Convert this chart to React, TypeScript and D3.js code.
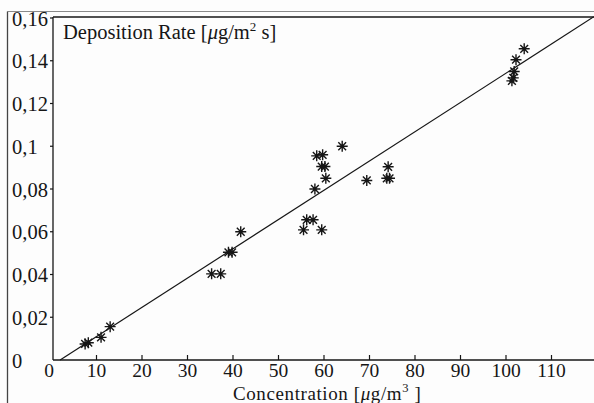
import React from "react";
import * as d3 from "d3";

const W = 594;
const H = 403;

// Data: concentration [µg/m³] vs deposition rate [µg/m² s]
const concentration = [
  7.5, 8.2, 11.0, 13.0, 35.3, 37.3, 39.0, 39.8, 41.7,
  58.0, 58.4, 59.7, 59.5, 60.2, 60.4, 64.0, 69.4, 74.1, 73.8, 74.4,
  56.2, 57.6, 55.5, 59.5,
  104.0, 102.2, 101.8, 101.3, 101.6,
];
const depositionRate = [
  0.0075, 0.0081, 0.0106, 0.0156, 0.0403, 0.0403, 0.0504, 0.0504, 0.060,
  0.080, 0.0955, 0.096, 0.0905, 0.0905, 0.085, 0.100, 0.084, 0.0904, 0.085, 0.085,
  0.0656, 0.0656, 0.0609, 0.0609,
  0.1456, 0.1405, 0.135, 0.1306, 0.132,
];

// Regression line endpoints (x values) and coefficients
const fitX = [2.0, 119.3];
const fitSlope = 0.001369;
const fitIntercept = -0.00274;

const xTicks = [10, 20, 30, 40, 50, 60, 70, 80, 90, 100, 110];
const xTickLabels = ["10", "20", "30", "40", "50", "60", "70", "80", "90", "100", "110"];
const yTicks = [0, 0.02, 0.04, 0.06, 0.08, 0.1, 0.12, 0.14, 0.16];
const yTickLabels = ["0", "0,02", "0,04", "0,06", "0,08", "0,1", "0,12", "0,14", "0,16"];

const FONT = "'Liberation Serif', 'Times New Roman', 'DejaVu Serif', serif";
const INK = "#161616";

export default function App() {
  const x = d3.scaleLinear().domain([0, 110]).range([51, 551.5]);
  const y = d3.scaleLinear().domain([0, 0.16]).range([360, 18]);

  const axisLeft = 53;
  const axisBottom = y(0);
  const frameTop = 17;

  const line = d3
    .line<number>()
    .x((d) => x(d))
    .y((d) => y(fitSlope * d + fitIntercept));

  const r = 5.5;
  const starPath = (cx: number, cy: number) => {
    const parts: string[] = [];
    for (let k = 0; k < 4; k++) {
      const a = (k * Math.PI) / 4;
      const dx = r * Math.cos(a);
      const dy = r * Math.sin(a);
      parts.push(`M${cx - dx},${cy - dy}L${cx + dx},${cy + dy}`);
    }
    return parts.join("");
  };

  const textStyle = { fontFamily: FONT };

  return (
    <svg
      width={W}
      height={H}
      style={{ position: "absolute", left: 0, top: 0, background: "#fff", fontFamily: FONT }}
    >
      <rect x={0} y={0} width={W} height={H} fill="#fdfdfd" />
      {/* outer border */}
      <line x1={7.5} y1={11.5} x2={W} y2={11.5} stroke="#8a8a8a" strokeWidth={1} />
      <line x1={7.5} y1={11.5} x2={7.5} y2={H} stroke="#444" strokeWidth={1.3} />

      {/* plot frame */}
      <line x1={axisLeft} y1={frameTop} x2={W} y2={frameTop} stroke={INK} strokeWidth={1.5} />
      <line x1={axisLeft} y1={frameTop} x2={axisLeft} y2={axisBottom} stroke={INK} strokeWidth={1.3} />
      <line x1={axisLeft} y1={axisBottom} x2={W} y2={axisBottom} stroke={INK} strokeWidth={1.3} />

      {/* y ticks */}
      {yTicks.map((t, i) => (
        <g key={"y" + i}>
          {t > 0 && (
            <line x1={axisLeft - 3} y1={y(t)} x2={axisLeft} y2={y(t)} stroke={INK} strokeWidth={1.2} />
          )}
          <text
            x={12}
            y={y(t) + 3}
            fontSize={20.5}
            fill={INK}
            dominantBaseline="middle"
            style={textStyle}
          >
            {yTickLabels[i]}
          </text>
        </g>
      ))}

      {/* x ticks */}
      {xTicks.map((t, i) => (
        <g key={"x" + i}>
          <line x1={x(t)} y1={axisBottom} x2={x(t)} y2={axisBottom - 5} stroke={INK} strokeWidth={1.2} />
          <text x={x(t)} y={377} fontSize={19.5} fill={INK} textAnchor="middle" style={textStyle}>
            {xTickLabels[i]}
          </text>
        </g>
      ))}
      <text x={x(0) - 2} y={377} fontSize={19.5} fill={INK} textAnchor="middle" style={textStyle}>
        0
      </text>

      {/* regression line */}
      <path d={line(fitX) || ""} fill="none" stroke={INK} strokeWidth={1.2} />

      {/* data points */}
      {concentration.map((c, i) => (
        <path key={"p" + i} d={starPath(x(c), y(depositionRate[i]))} stroke={INK} strokeWidth={1.4} fill="none" />
      ))}

      {/* axis titles */}
      <text x={63} y={39} fontSize={20.5} fill={INK} style={textStyle}>
        Deposition Rate [<tspan fontStyle="italic">μ</tspan>g/m
        <tspan fontSize={13} dy={-8}>2</tspan>
        <tspan dy={8}> s]</tspan>
      </text>
      <text x={233} y={399.5} fontSize={19} letterSpacing={0.6} fill={INK} style={textStyle}>
        Concentration [<tspan fontStyle="italic">μ</tspan>g/m
        <tspan fontSize={12.5} dy={-8}>3</tspan>
        <tspan dy={8}> ]</tspan>
      </text>
    </svg>
  );
}
